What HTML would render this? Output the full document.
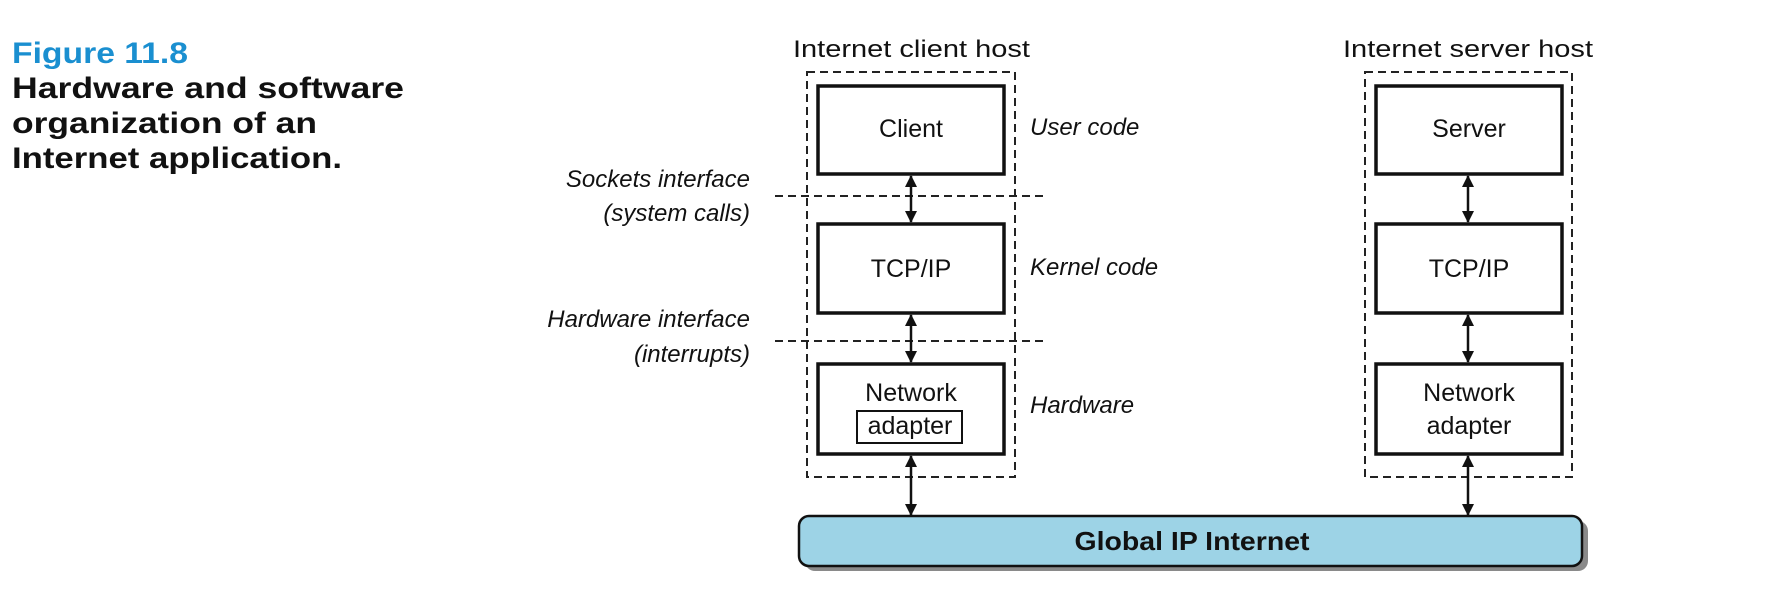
<!DOCTYPE html>
<html><head><meta charset="utf-8"><style>html,body{margin:0;padding:0;background:#fff;}svg{display:block}</style></head>
<body>
<svg width="1776" height="616" viewBox="0 0 1776 616" xmlns="http://www.w3.org/2000/svg" font-family="Liberation Sans, Arial, sans-serif">
<defs>
<marker id="ah" markerWidth="12" markerHeight="12" refX="11" refY="6" orient="auto-start-reverse" markerUnits="userSpaceOnUse">
<path d="M0,0 L12,6 L0,12 z" fill="#111"/>
</marker>
</defs>
<!-- caption -->
<text x="12" y="63" font-size="30" font-weight="bold" fill="#1a8fd0" textLength="176" lengthAdjust="spacingAndGlyphs">Figure 11.8</text>
<text x="12" y="98" font-size="30" font-weight="bold" fill="#111" textLength="392" lengthAdjust="spacingAndGlyphs">Hardware and software</text>
<text x="12" y="133" font-size="30" font-weight="bold" fill="#111" textLength="305" lengthAdjust="spacingAndGlyphs">organization of an</text>
<text x="12" y="168" font-size="30" font-weight="bold" fill="#111" textLength="330" lengthAdjust="spacingAndGlyphs">Internet application.</text>

<!-- host titles -->
<text x="793" y="57" font-size="24" fill="#111" textLength="237" lengthAdjust="spacingAndGlyphs">Internet client host</text>
<text x="1343" y="57" font-size="24" fill="#111" textLength="250" lengthAdjust="spacingAndGlyphs">Internet server host</text>

<!-- dashed host boxes -->
<rect x="807" y="72" width="208" height="405" fill="none" stroke="#222" stroke-width="2" stroke-dasharray="8,5"/>
<rect x="1365" y="72" width="207" height="405" fill="none" stroke="#222" stroke-width="2" stroke-dasharray="8,5"/>

<!-- interface lines -->
<line x1="775" y1="196" x2="1043" y2="196" stroke="#222" stroke-width="2" stroke-dasharray="8,5"/>
<line x1="775" y1="341" x2="1043" y2="341" stroke="#222" stroke-width="2" stroke-dasharray="8,5"/>

<!-- left labels -->
<g font-size="24" font-style="italic" fill="#111" text-anchor="end">
<text x="750" y="187">Sockets interface</text>
<text x="750" y="221">(system calls)</text>
<text x="750" y="327">Hardware interface</text>
<text x="750" y="362">(interrupts)</text>
</g>
<g font-size="24" font-style="italic" fill="#111">
<text x="1030" y="135">User code</text>
<text x="1030" y="275">Kernel code</text>
<text x="1030" y="413">Hardware</text>
</g>

<!-- boxes -->
<g fill="#fff" stroke="#111" stroke-width="3.5">
<rect x="818" y="86" width="186" height="88"/>
<rect x="818" y="224" width="186" height="89"/>
<rect x="818" y="364" width="186" height="90"/>
<rect x="1376" y="86" width="186" height="88"/>
<rect x="1376" y="224" width="186" height="89"/>
<rect x="1376" y="364" width="186" height="90"/>
</g>
<rect x="857" y="411" width="105" height="32" fill="none" stroke="#111" stroke-width="2"/>
<g font-size="25" fill="#111" text-anchor="middle">
<text x="911" y="137">Client</text>
<text x="911" y="277">TCP/IP</text>
<text x="911" y="401">Network</text>
<text x="910" y="434">adapter</text>
<text x="1469" y="137">Server</text>
<text x="1469" y="277">TCP/IP</text>
<text x="1469" y="401">Network</text>
<text x="1469" y="434">adapter</text>
</g>

<!-- arrows -->
<g stroke="#111" stroke-width="2.5" marker-start="url(#ah)" marker-end="url(#ah)">
<line x1="911" y1="176" x2="911" y2="222"/>
<line x1="911" y1="315" x2="911" y2="362"/>
<line x1="911" y1="456" x2="911" y2="515"/>
<line x1="1468" y1="176" x2="1468" y2="222"/>
<line x1="1468" y1="315" x2="1468" y2="362"/>
<line x1="1468" y1="456" x2="1468" y2="515"/>
</g>

<!-- global bar -->
<rect x="805" y="521" width="783" height="50" rx="10" fill="#8a8a8a"/>
<rect x="799" y="516" width="783" height="50" rx="10" fill="#9dd3e6" stroke="#111" stroke-width="2.5"/>
<text x="1192" y="550" font-size="26" font-weight="bold" fill="#111" text-anchor="middle" textLength="235" lengthAdjust="spacingAndGlyphs">Global IP Internet</text>
</svg>
</body></html>
